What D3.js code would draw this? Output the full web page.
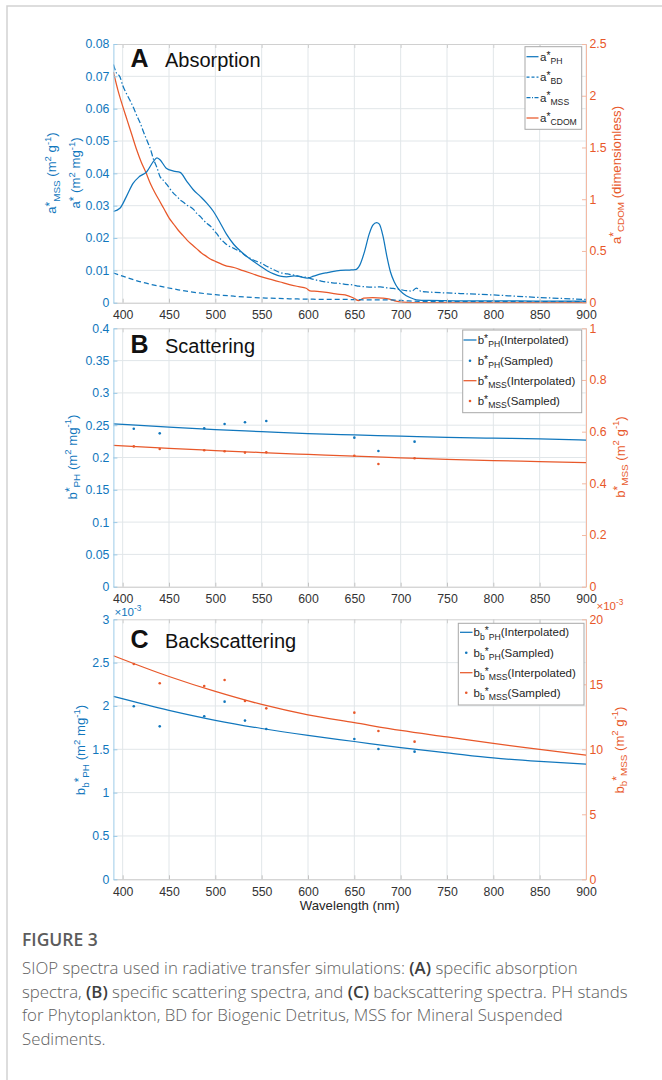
<!DOCTYPE html>
<html>
<head>
<meta charset="utf-8">
<script src="https://cdn.jsdelivr.net/npm/d3@7"></script>
<style>
  body { margin: 0; background: #fff; }
  svg { display: block; }
  text { white-space: pre; }
</style>
</head>
<body>
<svg id="fig" width="662" height="1080"></svg>
<script>
// ---------- data ----------
const wavelengthTicks = [400, 450, 500, 550, 600, 650, 700, 750, 800, 850, 900];

// Panel A: specific absorption, [wavelength (nm), value]
const aPH = [[390,0.0282],[397,0.0292],[404,0.0328],[411,0.0368],[418,0.0390],[426,0.0405],[433,0.0436],[437,0.0448],[440,0.0443],[447,0.0416],[455,0.0407],[462,0.0403],[469,0.0376],[476,0.0350],[484,0.0328],[491,0.0307],[498,0.0282],[505,0.0248],[512,0.0212],[520,0.0180],[527,0.0160],[534,0.0143],[541,0.0128],[548,0.0114],[556,0.0099],[563,0.0089],[570,0.0082],[577,0.0080],[585,0.0083],[592,0.0080],[599,0.0076],[606,0.0082],[614,0.0089],[621,0.0093],[635,0.0100],[645,0.0101],[651,0.0102],[656,0.0117],[661,0.0158],[666,0.0212],[670,0.0240],[674,0.0248],[677,0.0243],[681,0.0205],[685,0.0145],[689,0.0095],[693,0.0065],[697,0.0045],[703,0.0028],[710,0.0016],[717,0.0009],[730,0.0007],[760,0.0006],[800,0.0006],[850,0.0005],[900,0.0005]];
const aBD = [[390,0.0092],[400,0.0082],[420,0.0064],[440,0.0051],[460,0.0040],[480,0.0031],[500,0.0025],[520,0.0020],[540,0.0016],[560,0.0014],[580,0.0012],[600,0.0011],[620,0.0010],[640,0.0010],[660,0.0009],[680,0.0009],[700,0.0007],[720,0.0004],[750,0.0003],[800,0.0003],[850,0.0003],[900,0.0003]];
const aMSS = [[390,0.0737],[393,0.0712],[397,0.0699],[400,0.0672],[404,0.0647],[408,0.0625],[412,0.0601],[415,0.0580],[419,0.0555],[422,0.0532],[426,0.0503],[430,0.0475],[433,0.0446],[437,0.0418],[440,0.0392],[444,0.0378],[448,0.0364],[451,0.0352],[455,0.0338],[458,0.0330],[462,0.0318],[466,0.0310],[469,0.0302],[473,0.0296],[477,0.0287],[480,0.0276],[484,0.0266],[487,0.0256],[491,0.0245],[495,0.0236],[498,0.0225],[502,0.0212],[505,0.0199],[509,0.0188],[513,0.0178],[520,0.0168],[527,0.0157],[534,0.0143],[541,0.0132],[549,0.0123],[556,0.0112],[563,0.0102],[570,0.0093],[578,0.0089],[585,0.0085],[592,0.0081],[599,0.0078],[606,0.0072],[614,0.0067],[624,0.0062],[632,0.0060],[640,0.0057],[648,0.0055],[655,0.0051],[662,0.0049],[670,0.0048],[678,0.0049],[685,0.0046],[692,0.0044],[699,0.0041],[706,0.0037],[712,0.0036],[717,0.0045],[722,0.0035],[730,0.0033],[750,0.0030],[775,0.0027],[800,0.0024],[825,0.0020],[850,0.0016],[875,0.0013],[900,0.0010]];
const aCDOM = [[390,2.23],[395,2.05],[400,1.90],[405,1.76],[410,1.62],[415,1.48],[420,1.36],[425,1.26],[430,1.15],[435,1.06],[440,0.98],[445,0.90],[450,0.82],[455,0.76],[460,0.70],[465,0.65],[470,0.60],[475,0.56],[480,0.52],[485,0.48],[490,0.45],[495,0.42],[500,0.40],[505,0.38],[510,0.36],[520,0.34],[530,0.31],[540,0.28],[550,0.25],[560,0.225],[570,0.20],[580,0.175],[590,0.155],[598,0.14],[602,0.115],[610,0.11],[620,0.10],[630,0.085],[640,0.075],[648,0.05],[655,0.02],[660,0.045],[670,0.05],[680,0.045],[688,0.035],[695,0.015],[702,0.005],[720,0],[900,0]];

// Panels B and C: sampled bands and interpolated spectra
const sampledWl = [412, 440, 488, 510, 532, 555, 650, 676, 715];
const interpWl = [390, 450, 500, 550, 600, 650, 700, 750, 800, 850, 900];
const bPHSampled = [0.2446, 0.2374, 0.2451, 0.2519, 0.2545, 0.2565, 0.2307, 0.2100, 0.2245];
const bMSSSampled = [0.543, 0.533, 0.528, 0.524, 0.519, 0.520, 0.507, 0.475, 0.497];
const bPHInterp = [0.252, 0.247, 0.243, 0.240, 0.237, 0.235, 0.233, 0.231, 0.230, 0.229, 0.227];
const bMSSInterp = [0.547, 0.535, 0.527, 0.519, 0.512, 0.505, 0.499, 0.493, 0.488, 0.484, 0.480];
// backscattering, in units of 1e-3
const bbPHSampled = [1.996, 1.765, 1.881, 2.050, 1.831, 1.735, 1.619, 1.504, 1.473];
const bbMSSSampled = [16.56, 15.08, 14.87, 15.33, 13.72, 13.15, 12.82, 11.41, 10.59];
const bbPHInterp = [2.11, 1.95, 1.835, 1.74, 1.66, 1.59, 1.52, 1.46, 1.40, 1.36, 1.33];
const bbMSSInterp = [17.2, 15.6, 14.45, 13.45, 12.65, 12.05, 11.45, 10.95, 10.45, 10.0, 9.56];

// axis ticks
const ticksALeft = [0, 0.01, 0.02, 0.03, 0.04, 0.05, 0.06, 0.07, 0.08];
const ticksARight = [0, 0.5, 1, 1.5, 2, 2.5];
const ticksBLeft = [0, 0.05, 0.1, 0.15, 0.2, 0.25, 0.3, 0.35, 0.4];
const ticksBRight = [0, 0.2, 0.4, 0.6, 0.8, 1];
const ticksCLeft = [0, 0.5, 1, 1.5, 2, 2.5, 3];
const ticksCRight = [0, 5, 10, 15, 20];

// ---------- drawing ----------
const FONT = "'Liberation Sans', Arial, Helvetica, sans-serif";
const BLUE = '#1177bd';
const ORANGE = '#e8582a';
const INK = '#262626';
const GRID = '#e1e6e9';
const X0 = 113.4, X1 = 586;

const svg = d3.select('#fig');

// page frame
svg.append('path').attr('d', 'M7,1080 V6 H662').attr('fill', 'none')
  .attr('stroke', '#d2d2d2').attr('stroke-width', 1.5);

// text with sub/superscript parts: [string, mode] where mode is 0, 'sup' or 'sub'
function rich(t, parts, size) {
  let cur = 0;
  parts.forEach(([s, m]) => {
    let off = 0, scale = 1;
    if (m === 'sup') { off = s === '*' ? -0.18 * size : -0.4 * size; scale = s === '*' ? 0.9 : 0.72; }
    if (m === 'sub') { off = 0.3 * size; scale = 0.75; }
    const sp = t.append('tspan').text(s).attr('dy', (off - cur).toFixed(2));
    if (m) sp.attr('font-size', (size * scale).toFixed(2));
    cur = off;
  });
  return t;
}

const x = d3.scaleLinear().domain([390, 900]).range([X0, X1]);
const fmt = d3.format('~g');

function panel(cfg) {
  const { top, bottom, yL, yR, tl, tr } = cfg;
  const yl = d3.scaleLinear().domain(yL).range([bottom, top]);
  const yr = d3.scaleLinear().domain(yR).range([bottom, top]);
  const g = svg.append('g');

  // grid
  g.append('g').selectAll('line').data(wavelengthTicks).join('line')
    .attr('x1', d => x(d)).attr('x2', d => x(d)).attr('y1', top).attr('y2', bottom)
    .attr('stroke', GRID).attr('stroke-width', 1);
  g.append('g').selectAll('line').data(tl.filter(d => d > yL[0] && d < yL[1])).join('line')
    .attr('x1', X0).attr('x2', X1).attr('y1', d => yl(d)).attr('y2', d => yl(d))
    .attr('stroke', GRID).attr('stroke-width', 1);

  const clipId = 'clip' + Math.round(top);
  svg.append('clipPath').attr('id', clipId).append('rect')
    .attr('x', X0).attr('y', top - 1).attr('width', X1 - X0).attr('height', bottom - top + 2);
  const plot = g.append('g').attr('clip-path', `url(#${clipId})`);

  // axes
  const styleAxis = (sel, color, tickColor) => {
    sel.select('.domain').attr('stroke', color).attr('stroke-width', 1);
    sel.selectAll('.tick line').attr('stroke', color).attr('stroke-width', 1);
    sel.selectAll('.tick text').attr('fill', tickColor).attr('font-size', 12.3).attr('font-family', FONT);
  };
  g.append('g').attr('transform', `translate(0,${bottom})`)
    .call(d3.axisBottom(x).tickValues(wavelengthTicks).tickSizeInner(-4).tickSizeOuter(0).tickPadding(8).tickFormat(fmt))
    .call(s => styleAxis(s, '#c4c4c4', '#333'));
  g.append('g').attr('transform', `translate(0,${top})`)
    .call(d3.axisTop(x).tickValues(wavelengthTicks).tickSizeInner(-4).tickSizeOuter(0).tickFormat(''))
    .call(s => styleAxis(s, '#d0d0d0', '#333'));
  g.append('g').attr('transform', `translate(${X0},0)`)
    .call(d3.axisLeft(yl).tickValues(tl).tickSizeInner(-4).tickSizeOuter(0).tickPadding(4).tickFormat(fmt))
    .call(s => styleAxis(s, '#9ccbe8', BLUE));
  g.append('g').attr('transform', `translate(${X1},0)`)
    .call(d3.axisRight(yr).tickValues(tr).tickSizeInner(-4).tickSizeOuter(0).tickPadding(3.5).tickFormat(fmt))
    .call(s => styleAxis(s, '#f3b9a3', ORANGE));

  return { g, plot, yl, yr };
}

function drawLine(plot, data, yScale, color, dash) {
  plot.append('path').datum(data)
    .attr('d', d3.line().x(d => x(d[0])).y(d => yScale(d[1])).curve(d3.curveMonotoneX))
    .attr('fill', 'none').attr('stroke', color).attr('stroke-width', 1.25)
    .attr('stroke-dasharray', dash || null).attr('stroke-linejoin', 'round');
}
function drawDots(plot, wl, vals, yScale, color) {
  plot.append('g').selectAll('circle').data(wl.map((w, i) => [w, vals[i]])).join('circle')
    .attr('cx', d => x(d[0])).attr('cy', d => yScale(d[1])).attr('r', 1.3).attr('fill', color);
}

function title(letter, word, baseline) {
  svg.append('text').attr('x', 130.5).attr('y', baseline).attr('font-family', FONT)
    .attr('font-weight', 'bold').attr('font-size', 25).attr('fill', '#111').text(letter);
  svg.append('text').attr('x', 165).attr('y', baseline).attr('font-family', FONT)
    .attr('font-size', 20).attr('fill', '#111').text(word);
}

function yLabel(xBase, cy, parts, color) {
  const t = svg.append('text').attr('transform', `translate(${xBase},${cy}) rotate(-90)`)
    .attr('text-anchor', 'middle').attr('font-family', FONT).attr('font-size', 13.2).attr('fill', color);
  rich(t, parts, 13.2);
}

const DASHDOT = '6,2.2,1.4,2.2';
function legend(box, rows, lineX, textX, items) {
  const g = svg.append('g');
  g.append('rect').attr('x', box[0]).attr('y', box[1]).attr('width', box[2] - box[0]).attr('height', box[3] - box[1])
    .attr('fill', '#fff').attr('stroke', '#a8a8a8').attr('stroke-width', 1);
  items.forEach((it, i) => {
    const y = rows[i];
    if (it.type === 'dot') {
      g.append('circle').attr('cx', (lineX[0] + lineX[1]) / 2).attr('cy', y).attr('r', 1.3).attr('fill', it.color);
    } else {
      g.append('line').attr('x1', lineX[0]).attr('x2', lineX[1]).attr('y1', y).attr('y2', y)
        .attr('stroke', it.color).attr('stroke-width', 1.25).attr('stroke-dasharray', it.dash || null);
    }
    const t = g.append('text').attr('x', textX).attr('y', y + 4).attr('font-family', FONT)
      .attr('font-size', 11.5).attr('fill', INK);
    rich(t, it.parts, 11.5);
  });
}

// ----- Panel A: absorption -----
const A = panel({ top: 44, bottom: 302.7, yL: [0, 0.08], yR: [0, 2.5], tl: ticksALeft, tr: ticksARight });
drawLine(A.plot, aCDOM, A.yr, ORANGE);
drawLine(A.plot, aBD, A.yl, BLUE, '5,3');
drawLine(A.plot, aMSS, A.yl, BLUE, DASHDOT);
drawLine(A.plot, aPH, A.yl, BLUE);
title('A', 'Absorption', 67.3);
yLabel(56, 173, [['a', 0], ['*', 'sup'], ['MSS', 'sub'], [' (m', 0], ['2', 'sup'], [' g', 0], ['-1', 'sup'], [')', 0]], BLUE);
yLabel(80, 173, [['a', 0], ['*', 'sup'], [' (m', 0], ['2', 'sup'], [' mg', 0], ['-1', 'sup'], [')', 0]], BLUE);
yLabel(620.5, 175, [['a', 0], ['*', 'sup'], ['CDOM', 'sub'], [' (dimensionless)', 0]], ORANGE);
legend([525, 46.7, 581.7, 129.3], [56.7, 77, 97.5, 118], [526.5, 538.5], 540, [
  { color: BLUE, parts: [['a', 0], ['*', 'sup'], ['PH', 'sub']] },
  { color: BLUE, dash: '3,2', parts: [['a', 0], ['*', 'sup'], ['BD', 'sub']] },
  { color: BLUE, dash: '4,1.5,1,1.5', parts: [['a', 0], ['*', 'sup'], ['MSS', 'sub']] },
  { color: ORANGE, parts: [['a', 0], ['*', 'sup'], ['CDOM', 'sub']] }
]);

// ----- Panel B: scattering -----
const B = panel({ top: 328.3, bottom: 586.7, yL: [0, 0.4], yR: [0, 1], tl: ticksBLeft, tr: ticksBRight });
drawLine(B.plot, interpWl.map((w, i) => [w, bMSSInterp[i]]), B.yr, ORANGE);
drawLine(B.plot, interpWl.map((w, i) => [w, bPHInterp[i]]), B.yl, BLUE);
drawDots(B.plot, sampledWl, bPHSampled, B.yl, BLUE);
drawDots(B.plot, sampledWl, bMSSSampled, B.yr, ORANGE);
title('B', 'Scattering', 353.3);
yLabel(76.5, 457, [['b', 0], ['*', 'sup'], ['PH', 'sub'], [' (m', 0], ['2', 'sup'], [' mg', 0], ['-1', 'sup'], [')', 0]], BLUE);
yLabel(624.5, 457, [['b', 0], ['*', 'sup'], ['MSS', 'sub'], [' (m', 0], ['2', 'sup'], [' g', 0], ['-1', 'sup'], [')', 0]], ORANGE);
legend([462.7, 330, 581.7, 412.7], [340, 360.7, 380.7, 401], [463.5, 476.5], 477.7, [
  { color: BLUE, parts: [['b', 0], ['*', 'sup'], ['PH', 'sub'], ['(Interpolated)', 0]] },
  { color: BLUE, type: 'dot', parts: [['b', 0], ['*', 'sup'], ['PH', 'sub'], ['(Sampled)', 0]] },
  { color: ORANGE, parts: [['b', 0], ['*', 'sup'], ['MSS', 'sub'], ['(Interpolated)', 0]] },
  { color: ORANGE, type: 'dot', parts: [['b', 0], ['*', 'sup'], ['MSS', 'sub'], ['(Sampled)', 0]] }
]);

// ----- Panel C: backscattering -----
const C = panel({ top: 619.3, bottom: 879.3, yL: [0, 3], yR: [0, 20], tl: ticksCLeft, tr: ticksCRight });
drawLine(C.plot, interpWl.map((w, i) => [w, bbMSSInterp[i]]), C.yr, ORANGE);
drawLine(C.plot, interpWl.map((w, i) => [w, bbPHInterp[i]]), C.yl, BLUE);
drawDots(C.plot, sampledWl, bbPHSampled, C.yl, BLUE);
drawDots(C.plot, sampledWl, bbMSSSampled, C.yr, ORANGE);
title('C', 'Backscattering', 648.3);
rich(svg.append('text').attr('x', 114.5).attr('y', 616).attr('font-family', FONT).attr('font-size', 11.5).attr('fill', BLUE),
  [['\u00d710', 0], ['-3', 'sup']], 11.5);
rich(svg.append('text').attr('x', 596.5).attr('y', 609.5).attr('font-family', FONT).attr('font-size', 11.5).attr('fill', ORANGE),
  [['\u00d710', 0], ['-3', 'sup']], 11.5);
yLabel(85, 750, [['b', 0], ['b', 'sub'], ['*', 'sup'], ['PH', 'sub'], [' (m', 0], ['2', 'sup'], [' mg', 0], ['-1', 'sup'], [')', 0]], BLUE);
yLabel(623.5, 750, [['b', 0], ['b', 'sub'], ['*', 'sup'], ['MSS', 'sub'], [' (m', 0], ['2', 'sup'], [' g', 0], ['-1', 'sup'], [')', 0]], ORANGE);
legend([458.3, 623.3, 584, 705], [632.3, 652.7, 672.7, 692.7], [460, 472.5], 473.5, [
  { color: BLUE, parts: [['b', 0], ['b', 'sub'], ['*', 'sup'], ['PH', 'sub'], ['(Interpolated)', 0]] },
  { color: BLUE, type: 'dot', parts: [['b', 0], ['b', 'sub'], ['*', 'sup'], ['PH', 'sub'], ['(Sampled)', 0]] },
  { color: ORANGE, parts: [['b', 0], ['b', 'sub'], ['*', 'sup'], ['MSS', 'sub'], ['(Interpolated)', 0]] },
  { color: ORANGE, type: 'dot', parts: [['b', 0], ['b', 'sub'], ['*', 'sup'], ['MSS', 'sub'], ['(Sampled)', 0]] }
]);

svg.append('text').attr('x', (X0 + X1) / 2).attr('y', 909.5).attr('text-anchor', 'middle')
  .attr('font-family', FONT).attr('font-size', 13.2).attr('fill', INK).text('Wavelength (nm)');

// ----- caption -----
const CAP_FONT = "'Open Sans', 'Noto Sans', sans-serif";
svg.append('text').attr('x', 22).attr('y', 946).attr('font-family', CAP_FONT)
  .attr('font-weight', 600).attr('font-size', 17.5).attr('fill', '#5c5c5c').text('FIGURE 3');

const captionLines = [
  [['SIOP spectra used in radiative transfer simulations: ', 0], ['(A)', 1], [' specific absorption', 0]],
  [['spectra, ', 0], ['(B)', 1], [' specific scattering spectra, and ', 0], ['(C)', 1], [' backscattering spectra. PH stands', 0]],
  [['for Phytoplankton, BD for Biogenic Detritus, MSS for Mineral Suspended', 0]],
  [['Sediments.', 0]]
];
const capG = svg.append('g');
const capTexts = captionLines.map((parts, i) => {
  const t = capG.append('text').attr('x', 0).attr('y', 974 + i * 23.6)
    .attr('font-family', CAP_FONT).attr('font-weight', 300).attr('font-size', 16).attr('fill', '#5e5e5e');
  parts.forEach(([s, b]) => {
    const sp = t.append('tspan').text(s);
    if (b) sp.attr('font-weight', 600).attr('fill', '#3e3e3e');
  });
  return t;
});
const widest = capTexts[1].node().getComputedTextLength();
capG.attr('transform', `translate(22,0) scale(${(606 / widest).toFixed(4)},1)`);
</script>
</body>
</html>
